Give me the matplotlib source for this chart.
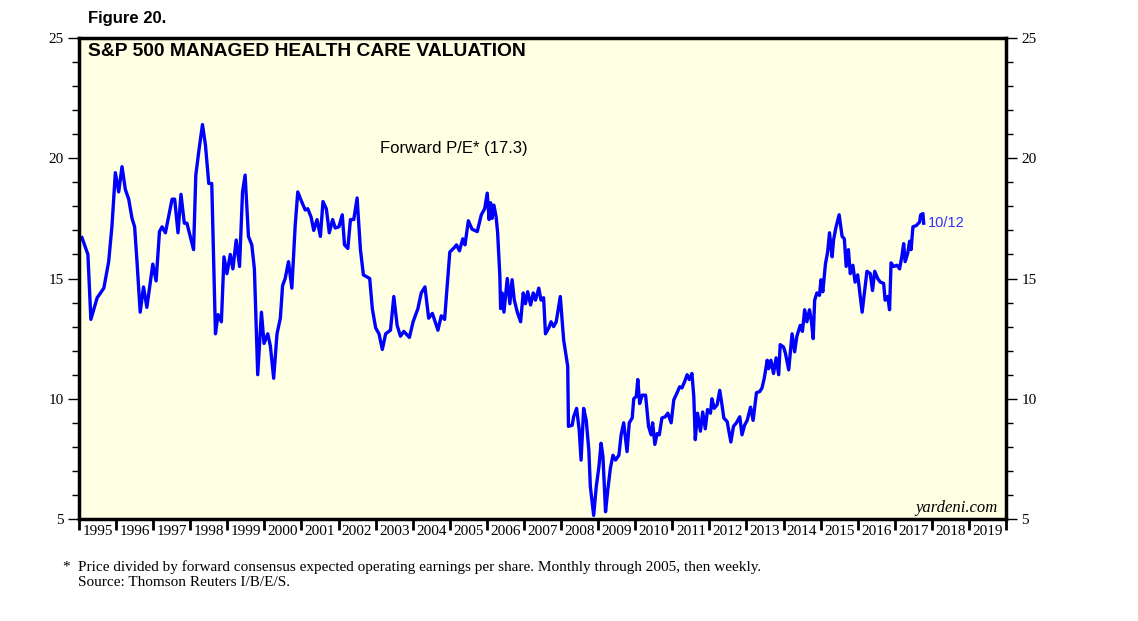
import numpy as np
import matplotlib
matplotlib.use("Agg")
import matplotlib.pyplot as plt

# Forward P/E, S&P 500 Managed Health Care
# dates as decimal years: monthly through 2005, then weekly-ish
dates = [
    1995.08, 1995.24, 1995.32, 1995.49, 1995.67, 1995.80, 1995.89, 1995.98,
    1996.07, 1996.16, 1996.25, 1996.34, 1996.43, 1996.50, 1996.56, 1996.65,
    1996.74, 1996.83, 1996.99, 1997.08, 1997.17, 1997.24, 1997.33, 1997.51,
    1997.58, 1997.67, 1997.75, 1997.84, 1997.91, 1998.09, 1998.15, 1998.24,
    1998.33, 1998.41, 1998.50, 1998.58, 1998.68, 1998.75, 1998.84, 1998.91,
    1998.99, 1999.08, 1999.15, 1999.24, 1999.33, 1999.41, 1999.48, 1999.57,
    1999.66, 1999.73, 1999.82, 1999.92, 1999.99, 2000.09, 2000.16, 2000.25,
    2000.34, 2000.43, 2000.49, 2000.56, 2000.65, 2000.74, 2000.83, 2000.90,
    2000.99, 2001.10, 2001.17, 2001.26, 2001.33, 2001.42, 2001.51, 2001.58,
    2001.67, 2001.75, 2001.84, 2001.91, 2002.01, 2002.10, 2002.16, 2002.25,
    2002.32, 2002.41, 2002.50, 2002.59, 2002.67, 2002.84, 2002.91, 2003.00,
    2003.09, 2003.18, 2003.27, 2003.40, 2003.49, 2003.58, 2003.67, 2003.76,
    2003.91, 2004.01, 2004.14, 2004.23, 2004.33, 2004.43, 2004.53, 2004.68,
    2004.77, 2004.86, 2005.00, 2005.13, 2005.18, 2005.26, 2005.35, 2005.41,
    2005.50, 2005.60, 2005.74, 2005.85, 2005.94, 2006.01, 2006.06, 2006.10,
    2006.14, 2006.19, 2006.25, 2006.29, 2006.35, 2006.37, 2006.41, 2006.46,
    2006.55, 2006.62, 2006.68, 2006.74, 2006.82, 2006.91, 2006.98, 2007.04,
    2007.10, 2007.18, 2007.25, 2007.31, 2007.40, 2007.46, 2007.53, 2007.58,
    2007.67, 2007.73, 2007.80, 2007.87, 2007.98, 2008.07, 2008.14, 2008.18,
    2008.20, 2008.30, 2008.34, 2008.42, 2008.49, 2008.54, 2008.61, 2008.68,
    2008.75, 2008.79, 2008.88, 2008.95, 2009.02, 2009.08, 2009.13, 2009.20,
    2009.26, 2009.33, 2009.40, 2009.47, 2009.56, 2009.62, 2009.69, 2009.78,
    2009.84, 2009.92, 2009.96, 2010.03, 2010.07, 2010.12, 2010.19, 2010.28,
    2010.36, 2010.43, 2010.47, 2010.53, 2010.59, 2010.65, 2010.72, 2010.81,
    2010.88, 2010.97, 2011.04, 2011.13, 2011.20, 2011.26, 2011.33, 2011.40,
    2011.46, 2011.53, 2011.58, 2011.62, 2011.68, 2011.76, 2011.82, 2011.89,
    2011.95, 2012.03, 2012.07, 2012.13, 2012.21, 2012.28, 2012.34, 2012.39,
    2012.48, 2012.52, 2012.58, 2012.65, 2012.73, 2012.82, 2012.88, 2012.95,
    2013.02, 2013.11, 2013.18, 2013.27, 2013.36, 2013.42, 2013.48, 2013.56,
    2013.60, 2013.66, 2013.73, 2013.80, 2013.87, 2013.91, 2014.00, 2014.05,
    2014.14, 2014.23, 2014.30, 2014.36, 2014.45, 2014.51, 2014.57, 2014.63,
    2014.70, 2014.75, 2014.80, 2014.84, 2014.90, 2014.97, 2015.01, 2015.06,
    2015.13, 2015.19, 2015.24, 2015.31, 2015.35, 2015.41, 2015.50, 2015.58,
    2015.64, 2015.69, 2015.75, 2015.80, 2015.87, 2015.93, 2016.00, 2016.07,
    2016.12, 2016.18, 2016.25, 2016.34, 2016.40, 2016.46, 2016.54, 2016.61,
    2016.70, 2016.74, 2016.81, 2016.86, 2016.90, 2016.97, 2017.06, 2017.13,
    2017.19, 2017.24, 2017.28, 2017.35, 2017.40, 2017.44, 2017.49, 2017.58,
    2017.67, 2017.70, 2017.76, 2017.78,
]
pe = [
    16.7, 16.0, 13.3, 14.2, 14.6, 15.7, 17.2, 19.4,
    18.6, 19.65, 18.7, 18.3, 17.5, 17.15, 15.8, 13.6,
    14.65, 13.8, 15.6, 14.9, 16.95, 17.15, 16.9, 18.3,
    18.3, 16.9, 18.5, 17.3, 17.3, 16.2, 19.3, 20.4,
    21.4, 20.55, 18.95, 18.95, 12.7, 13.5, 13.2, 15.9,
    15.2, 16.0, 15.4, 16.6, 15.5, 18.6, 19.3, 16.75,
    16.4, 15.4, 11.0, 13.6, 12.3, 12.7, 12.2, 10.85,
    12.7, 13.35, 14.7, 15.0, 15.7, 14.6, 17.2, 18.6,
    18.25, 17.85, 17.9, 17.55, 17.0, 17.45, 16.75, 18.2,
    17.9, 16.9, 17.45, 17.1, 17.15, 17.65, 16.4, 16.25,
    17.45, 17.45, 18.35, 16.2, 15.15, 15.0, 13.75, 12.95,
    12.7, 12.05, 12.7, 12.85, 14.25, 13.05, 12.6, 12.8,
    12.55, 13.2, 13.75, 14.4, 14.65, 13.35, 13.55, 12.85,
    13.45, 13.3, 16.1, 16.3, 16.4, 16.15, 16.65, 16.4,
    17.4, 17.05, 16.95, 17.65, 17.9, 18.55, 17.45, 18.15,
    17.5, 18.05, 17.55, 16.9, 15.1, 13.75, 14.4, 13.6,
    15.0, 13.95, 14.95, 14.1, 13.6, 13.2, 14.4, 13.95,
    14.45, 13.9, 14.4, 14.1, 14.6, 14.1, 14.2, 12.7,
    12.95, 13.2, 13.0, 13.2, 14.25, 12.45, 11.75, 11.35,
    8.85, 8.9, 9.25, 9.6, 8.7, 7.45, 9.6, 9.1,
    7.85, 6.35, 5.15, 6.35, 7.15, 8.15, 7.6, 5.3,
    6.2, 7.1, 7.65, 7.45, 7.65, 8.5, 9.0, 7.8,
    9.0, 9.2, 10.0, 10.1, 10.8, 9.8, 10.15, 10.15,
    8.85, 8.5, 9.0, 8.1, 8.55, 8.5, 9.2, 9.25,
    9.4, 9.0, 9.95, 10.25, 10.5, 10.45, 10.7, 11.0,
    10.8, 11.05, 10.1, 8.3, 9.4, 8.65, 9.45, 8.75,
    9.55, 9.4, 10.0, 9.6, 9.75, 10.35, 9.75, 9.2,
    9.05, 8.7, 8.2, 8.85, 9.0, 9.25, 8.5, 8.9,
    9.1, 9.65, 9.1, 10.25, 10.3, 10.45, 10.85, 11.6,
    11.25, 11.6, 11.05, 11.7, 11.0, 12.25, 12.15, 11.9,
    11.2, 12.7, 11.95, 12.6, 13.05, 12.8, 13.7, 13.2,
    13.7, 13.25, 12.5, 14.1, 14.4, 14.3, 14.95, 14.45,
    15.6, 16.1, 16.9, 15.9, 16.6, 17.1, 17.65, 16.75,
    16.65, 15.5, 16.2, 15.2, 15.55, 14.85, 15.15, 14.25,
    13.6, 14.4, 15.3, 15.2, 14.5, 15.3, 15.0, 14.85,
    14.8, 14.1, 14.25, 13.7, 15.65, 15.5, 15.55, 15.4,
    15.9, 16.45, 15.7, 16.05, 16.55, 16.2, 17.15, 17.2,
    17.35, 17.65, 17.7, 17.3,
]
years = list(range(1995, 2020))
last_date_label = "10/12"
current_pe = 17.3

sans = ["Liberation Sans", "DejaVu Sans"]
serif = ["Liberation Serif", "DejaVu Serif"]

fig = plt.figure(figsize=(11.38, 6.21), dpi=100)
ax = fig.add_axes([79 / 1138, 1 - 519 / 621, 927 / 1138, 481 / 621])
ax.set_facecolor("#ffffe3")

ax.plot(dates, pe, color="#0000ff", lw=2.4, solid_joinstyle="round")

ax.set_xlim(1995, 2020)
ax.set_ylim(5, 25)
for s in ax.spines.values():
    s.set_linewidth(2.5)

# x axis: ticks at year boundaries, labels centred in each year
ax.set_xticks(years + [2020])
ax.set_xticklabels([])
ax.set_xticks([y + 0.5 for y in years], minor=True)
ax.set_xticklabels([str(y) for y in years], minor=True, family=serif, fontsize=11)
ax.tick_params(axis="x", which="major", direction="out", length=8, width=2)
ax.tick_params(axis="x", which="minor", length=0, pad=4)

# y axis on both sides
ax.set_yticks([5, 10, 15, 20, 25])
ax.set_yticks(np.arange(5, 26, 1), minor=True)
ax.tick_params(axis="y", which="both", direction="out", left=True, right=True,
               labelleft=True, labelright=True, width=1)
ax.tick_params(axis="y", which="major", length=8, pad=3)
ax.tick_params(axis="y", which="minor", length=5)
for lab in ax.get_yticklabels():
    lab.set_family(serif)
    lab.set_fontsize(11)

fig.text(88 / 1138, 1 - 18 / 621, "Figure 20.", family=sans, fontweight="bold",
         fontsize=12, va="center", ha="left")
ax.text(0.0097, 0.972, "S&P 500 MANAGED HEALTH CARE VALUATION", transform=ax.transAxes,
        family=sans, fontweight="bold", fontsize=13.9, va="center", ha="left")
ax.text(0.4045, 0.771, f"Forward P/E* ({current_pe})", transform=ax.transAxes,
        family=sans, fontsize=12, va="center", ha="center")
ax.text(dates[-1] + 0.12, current_pe, last_date_label, family=sans, fontsize=10.5,
        color="#3030ff", va="center", ha="left")
ax.text(0.991, 0.023, "yardeni.com", transform=ax.transAxes, family=serif,
        style="italic", fontsize=12, va="center", ha="right")

fig.text(62 / 1138, 1 - 567 / 621, "*", family=serif, fontsize=11, va="center")
fig.text(78 / 1138, 1 - 567 / 621,
         "Price divided by forward consensus expected operating earnings per share. "
         "Monthly through 2005, then weekly.", family=serif, fontsize=11, va="center")
fig.text(78 / 1138, 1 - 582 / 621, "Source: Thomson Reuters I/B/E/S.", family=serif,
         fontsize=11, va="center")

fig.savefig("out.png", dpi=100)
